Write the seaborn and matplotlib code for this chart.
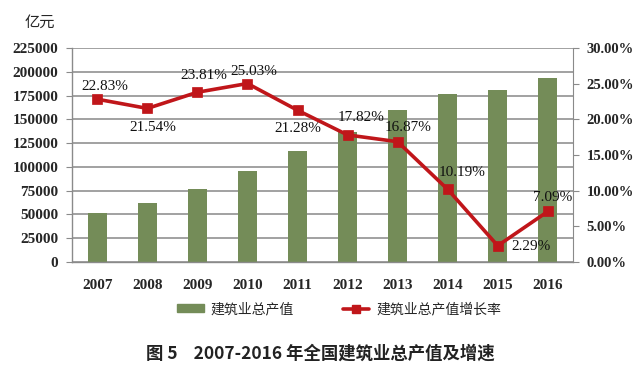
import numpy as np
import pandas as pd
import seaborn as sns
import matplotlib
matplotlib.use("Agg")
import matplotlib.pyplot as plt
from matplotlib.patches import Patch
from matplotlib.lines import Line2D
from matplotlib.ticker import FuncFormatter

# data
years = ["2007", "2008", "2009", "2010", "2011", "2012", "2013", "2014", "2015", "2016"]
output = [51044, 62037, 76808, 96031, 117060, 137218, 160366, 176713, 180757, 193567]
growth = [22.83, 21.54, 23.81, 25.03, 21.28, 17.82, 16.87, 10.19, 2.29, 7.09]

# label offsets (pixels) relative to each marker
label_dx = [7, 5, 6, 6, 0, 14, 10, 14, 33, 5]
label_dy = [13, -19, 17, 12, -18, 17, 14, 17, -1, 14]

bar_color = "#748c58"
line_color = "#c0161a"
grid_color = "#9a9a9a"
serif = "Liberation Serif"
cjk = ["Noto Sans CJK SC", "DejaVu Sans"]

sns.set_style("white")
plt.rcParams["font.family"] = [serif, "Noto Sans CJK SC", "DejaVu Sans"]

df = pd.DataFrame({"year": years, "output": output, "growth": growth})

fig = plt.figure(figsize=(6.4, 3.67), dpi=100)
ax = fig.add_axes([0.113, 0.286, 0.782, 0.583])

sns.barplot(data=df, x="year", y="output", color=bar_color, width=0.38,
            saturation=1, linewidth=0, edgecolor=bar_color, ax=ax, zorder=2)
ax.set_ylim(0, 225000)
ax.set_xlim(-0.5, 9.5)
ax.set_yticks(np.arange(0, 225001, 25000))
ax.yaxis.grid(True, color=grid_color, linewidth=1.3, zorder=0)
ax.set_axisbelow(True)
ax.set_xlabel("")
ax.set_ylabel("")
for s in ["left", "bottom"]:
    ax.spines[s].set_color("#8a8a8a")
    ax.spines[s].set_linewidth(1.0)
ax.spines["top"].set_visible(False)
ax.spines["right"].set_visible(False)
ax.tick_params(axis="y", length=4, color="#8a8a8a", pad=6)
ax.tick_params(axis="x", length=0, pad=12)
ax.set_xticks(np.arange(-0.5, 10, 1), minor=True)
ax.tick_params(axis="x", which="minor", length=4, color="#8a8a8a")
for lab in ax.get_yticklabels() + ax.get_xticklabels():
    lab.set_fontfamily(serif)
    lab.set_fontweight("bold")
    lab.set_fontsize(11)

ax2 = ax.twinx()
sns.pointplot(x=np.arange(len(years)), y=growth, ax=ax2, native_scale=True,
              color=line_color, markers="s", markersize=6, linewidth=2.6)
ax2.set_ylim(0, 30)
ax2.set_xlim(-0.5, 9.5)
ax2.set_yticks(np.arange(0, 30.01, 5))
ax2.yaxis.set_major_formatter(FuncFormatter(lambda v, p: f"{v:.2f}%"))
for s in ["left", "bottom", "top"]:
    ax2.spines[s].set_visible(False)
ax2.spines["right"].set_color("#8a8a8a")
ax2.tick_params(axis="y", length=4, color="#8a8a8a", pad=6)
for lab in ax2.get_yticklabels():
    lab.set_fontfamily(serif)
    lab.set_fontweight("bold")
    lab.set_fontsize(10.5)

for i, v in enumerate(growth):
    ax2.annotate(f"{v:.2f}%", (i, v), xytext=(label_dx[i], label_dy[i]),
                 textcoords="offset pixels", ha="center", va="center",
                 fontsize=11, family=serif, color="#111111")

fig.text(0.062, 0.94, "亿元", family=cjk, fontsize=11, ha="center", va="center")

handles = [Patch(facecolor=bar_color, edgecolor=bar_color),
           Line2D([0], [0], color=line_color, linewidth=2.6, marker="s", markersize=6)]
fig.legend(handles, ["建筑业总产值", "建筑业总产值增长率"], loc="center",
           bbox_to_anchor=(0.53, 0.158), ncol=2, frameon=False,
           prop={"family": cjk, "size": 10}, handlelength=1.9, handleheight=0.5,
           columnspacing=3.5, handletextpad=0.5)

fig.text(0.5, 0.035, "图 5    2007-2016 年全国建筑业总产值及增速", family=cjk,
         fontsize=12.5, fontweight="bold", ha="center", va="center", color="#222222")

fig.savefig("out.png", dpi=100)
